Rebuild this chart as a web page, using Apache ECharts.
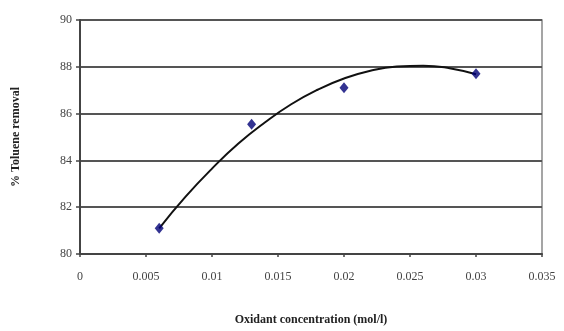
<!DOCTYPE html>
<html>
<head>
<meta charset="UTF-8">
<script src="https://cdn.jsdelivr.net/npm/echarts@6/dist/echarts.min.js"></script>
<style>
  html, body { margin: 0; padding: 0; background: #fff; }
  #main { width: 564px; height: 331px; }
</style>
</head>
<body>
<div id="main"></div>
<script>
// measured points
var concentration = [0.006, 0.013, 0.02, 0.03];
var removal = [81.1, 85.55, 87.1, 87.7];

// trendline
var trendX = [0.006, 0.008, 0.010, 0.012, 0.014, 0.016, 0.018, 0.020, 0.022, 0.024, 0.026, 0.028, 0.030];
var trendY = [81.1, 82.45, 83.65, 84.72, 85.62, 86.4, 87.02, 87.5, 87.83, 88.01, 88.05, 87.94, 87.68];

var xTicks = ['0', '0.005', '0.01', '0.015', '0.02', '0.025', '0.03', '0.035'];

var chart = echarts.init(document.getElementById('main'));
var serif = '"Liberation Serif", "DejaVu Serif", serif';

chart.setOption({
  animation: false,
  grid: {
    left: 80, right: 22, top: 20, bottom: 77,
    show: true, borderColor: '#888', borderWidth: 1.5, backgroundColor: '#fff'
  },
  xAxis: {
    type: 'value',
    min: 0, max: 0.035, interval: 0.005,
    name: 'Oxidant concentration (mol/l)',
    nameLocation: 'middle',
    nameGap: 60,
    nameTextStyle: { fontFamily: serif, fontWeight: 'bold', fontSize: 12, color: '#222' },
    axisLine: { lineStyle: { color: '#444', width: 2 } },
    axisTick: { show: true, length: 3, lineStyle: { color: '#444', width: 1.5 } },
    axisLabel: {
      fontFamily: serif, fontSize: 12, color: '#444', margin: 17,
      formatter: function (v) {
        var i = Math.round(v / 0.005);
        return xTicks[i] !== undefined ? xTicks[i] : '';
      }
    },
    splitLine: { show: false }
  },
  yAxis: {
    type: 'value',
    min: 80, max: 90, interval: 2,
    name: '% Toluene removal',
    nameLocation: 'middle',
    nameGap: 58,
    nameTextStyle: { fontFamily: serif, fontWeight: 'bold', fontSize: 12, color: '#222' },
    axisLine: { show: true, lineStyle: { color: '#444', width: 2 } },
    axisTick: { show: true, length: 4, lineStyle: { color: '#444', width: 1.5 } },
    axisLabel: { fontFamily: serif, fontSize: 12, color: '#444', margin: 8 },
    splitLine: { show: true, lineStyle: { color: '#555', width: 2 } }
  },
  series: [
    {
      type: 'line',
      data: trendX.map(function (x, i) { return [x, trendY[i]]; }),
      smooth: true,
      symbol: 'none',
      lineStyle: { color: '#111', width: 2 },
      z: 2
    },
    {
      type: 'scatter',
      data: concentration.map(function (x, i) { return [x, removal[i]]; }),
      symbol: 'diamond',
      symbolSize: [9, 11],
      itemStyle: { color: '#000077' },
      z: 3
    }
  ]
});
</script>
</body>
</html>
